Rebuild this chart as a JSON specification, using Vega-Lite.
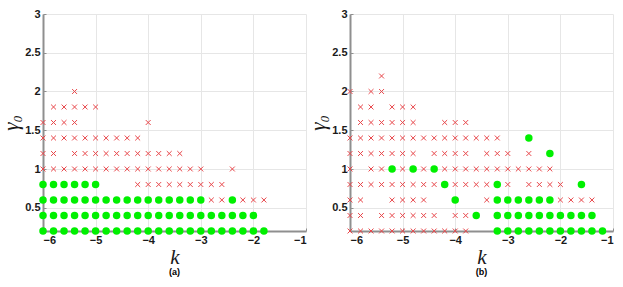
{
  "$schema": "https://vega.github.io/schema/vega-lite/v6.json",
  "background": "white",
  "padding": {"left": 0, "top": 8, "right": 0, "bottom": 0},
  "datasets": {
    "pts": [
      {"p":"a","g":2.0,"t":"x","k":-5.4},
      {"p":"a","g":1.8,"t":"x","k":-5.8},{"p":"a","g":1.8,"t":"x","k":-5.6},{"p":"a","g":1.8,"t":"x","k":-5.4},{"p":"a","g":1.8,"t":"x","k":-5.2},{"p":"a","g":1.8,"t":"x","k":-5.0},
      {"p":"a","g":1.6,"t":"x","k":-6.0},{"p":"a","g":1.6,"t":"x","k":-5.8},{"p":"a","g":1.6,"t":"x","k":-5.6},{"p":"a","g":1.6,"t":"x","k":-5.4},{"p":"a","g":1.6,"t":"x","k":-4.0},
      {"p":"a","g":1.4,"t":"x","k":-6.0},{"p":"a","g":1.4,"t":"x","k":-5.8},{"p":"a","g":1.4,"t":"x","k":-5.6},{"p":"a","g":1.4,"t":"x","k":-5.4},{"p":"a","g":1.4,"t":"x","k":-5.2},{"p":"a","g":1.4,"t":"x","k":-5.0},{"p":"a","g":1.4,"t":"x","k":-4.8},{"p":"a","g":1.4,"t":"x","k":-4.6},{"p":"a","g":1.4,"t":"x","k":-4.4},{"p":"a","g":1.4,"t":"x","k":-4.2},
      {"p":"a","g":1.2,"t":"x","k":-6.0},{"p":"a","g":1.2,"t":"x","k":-5.8},{"p":"a","g":1.2,"t":"x","k":-5.4},{"p":"a","g":1.2,"t":"x","k":-5.2},{"p":"a","g":1.2,"t":"x","k":-5.0},{"p":"a","g":1.2,"t":"x","k":-4.8},{"p":"a","g":1.2,"t":"x","k":-4.6},{"p":"a","g":1.2,"t":"x","k":-4.4},{"p":"a","g":1.2,"t":"x","k":-4.2},{"p":"a","g":1.2,"t":"x","k":-4.0},{"p":"a","g":1.2,"t":"x","k":-3.8},{"p":"a","g":1.2,"t":"x","k":-3.6},{"p":"a","g":1.2,"t":"x","k":-3.4},
      {"p":"a","g":1.0,"t":"x","k":-6.0},{"p":"a","g":1.0,"t":"x","k":-5.8},{"p":"a","g":1.0,"t":"x","k":-5.6},{"p":"a","g":1.0,"t":"x","k":-5.4},{"p":"a","g":1.0,"t":"x","k":-5.2},{"p":"a","g":1.0,"t":"x","k":-5.0},{"p":"a","g":1.0,"t":"x","k":-4.8},{"p":"a","g":1.0,"t":"x","k":-4.6},{"p":"a","g":1.0,"t":"x","k":-4.4},{"p":"a","g":1.0,"t":"x","k":-4.2},{"p":"a","g":1.0,"t":"x","k":-4.0},{"p":"a","g":1.0,"t":"x","k":-3.8},{"p":"a","g":1.0,"t":"x","k":-3.6},{"p":"a","g":1.0,"t":"x","k":-3.4},{"p":"a","g":1.0,"t":"x","k":-3.2},{"p":"a","g":1.0,"t":"x","k":-3.0},{"p":"a","g":1.0,"t":"x","k":-2.4},
      {"p":"a","g":0.8,"t":"o","k":-6.0},{"p":"a","g":0.8,"t":"o","k":-5.8},{"p":"a","g":0.8,"t":"o","k":-5.6},{"p":"a","g":0.8,"t":"o","k":-5.4},{"p":"a","g":0.8,"t":"o","k":-5.2},{"p":"a","g":0.8,"t":"o","k":-5.0},
      {"p":"a","g":0.8,"t":"x","k":-4.2},{"p":"a","g":0.8,"t":"x","k":-4.0},{"p":"a","g":0.8,"t":"x","k":-3.8},{"p":"a","g":0.8,"t":"x","k":-3.6},{"p":"a","g":0.8,"t":"x","k":-3.4},{"p":"a","g":0.8,"t":"x","k":-3.2},{"p":"a","g":0.8,"t":"x","k":-3.0},{"p":"a","g":0.8,"t":"x","k":-2.8},{"p":"a","g":0.8,"t":"x","k":-2.6},
      {"p":"a","g":0.6,"t":"o","k":-6.0},{"p":"a","g":0.6,"t":"o","k":-5.8},{"p":"a","g":0.6,"t":"o","k":-5.6},{"p":"a","g":0.6,"t":"o","k":-5.4},{"p":"a","g":0.6,"t":"o","k":-5.2},{"p":"a","g":0.6,"t":"o","k":-5.0},{"p":"a","g":0.6,"t":"o","k":-4.8},{"p":"a","g":0.6,"t":"o","k":-4.6},{"p":"a","g":0.6,"t":"o","k":-4.4},{"p":"a","g":0.6,"t":"o","k":-4.2},{"p":"a","g":0.6,"t":"o","k":-4.0},{"p":"a","g":0.6,"t":"o","k":-3.8},{"p":"a","g":0.6,"t":"o","k":-3.6},{"p":"a","g":0.6,"t":"o","k":-3.4},{"p":"a","g":0.6,"t":"o","k":-3.2},{"p":"a","g":0.6,"t":"o","k":-3.0},{"p":"a","g":0.6,"t":"o","k":-2.4},
      {"p":"a","g":0.6,"t":"x","k":-2.8},{"p":"a","g":0.6,"t":"x","k":-2.6},{"p":"a","g":0.6,"t":"x","k":-2.2},{"p":"a","g":0.6,"t":"x","k":-2.0},{"p":"a","g":0.6,"t":"x","k":-1.8},
      {"p":"a","g":0.4,"t":"o","k":-6.0},{"p":"a","g":0.4,"t":"o","k":-5.8},{"p":"a","g":0.4,"t":"o","k":-5.6},{"p":"a","g":0.4,"t":"o","k":-5.4},{"p":"a","g":0.4,"t":"o","k":-5.2},{"p":"a","g":0.4,"t":"o","k":-5.0},{"p":"a","g":0.4,"t":"o","k":-4.8},{"p":"a","g":0.4,"t":"o","k":-4.6},{"p":"a","g":0.4,"t":"o","k":-4.4},{"p":"a","g":0.4,"t":"o","k":-4.2},{"p":"a","g":0.4,"t":"o","k":-4.0},{"p":"a","g":0.4,"t":"o","k":-3.8},{"p":"a","g":0.4,"t":"o","k":-3.6},{"p":"a","g":0.4,"t":"o","k":-3.4},{"p":"a","g":0.4,"t":"o","k":-3.2},{"p":"a","g":0.4,"t":"o","k":-3.0},{"p":"a","g":0.4,"t":"o","k":-2.8},{"p":"a","g":0.4,"t":"o","k":-2.6},{"p":"a","g":0.4,"t":"o","k":-2.4},{"p":"a","g":0.4,"t":"o","k":-2.2},{"p":"a","g":0.4,"t":"o","k":-2.0},
      {"p":"a","g":0.2,"t":"o","k":-6.0},{"p":"a","g":0.2,"t":"o","k":-5.8},{"p":"a","g":0.2,"t":"o","k":-5.6},{"p":"a","g":0.2,"t":"o","k":-5.4},{"p":"a","g":0.2,"t":"o","k":-5.2},{"p":"a","g":0.2,"t":"o","k":-5.0},{"p":"a","g":0.2,"t":"o","k":-4.8},{"p":"a","g":0.2,"t":"o","k":-4.6},{"p":"a","g":0.2,"t":"o","k":-4.4},{"p":"a","g":0.2,"t":"o","k":-4.2},{"p":"a","g":0.2,"t":"o","k":-4.0},{"p":"a","g":0.2,"t":"o","k":-3.8},{"p":"a","g":0.2,"t":"o","k":-3.6},{"p":"a","g":0.2,"t":"o","k":-3.4},{"p":"a","g":0.2,"t":"o","k":-3.2},{"p":"a","g":0.2,"t":"o","k":-3.0},{"p":"a","g":0.2,"t":"o","k":-2.8},{"p":"a","g":0.2,"t":"o","k":-2.6},{"p":"a","g":0.2,"t":"o","k":-2.4},{"p":"a","g":0.2,"t":"o","k":-2.2},{"p":"a","g":0.2,"t":"o","k":-2.0},{"p":"a","g":0.2,"t":"o","k":-1.8},

      {"p":"b","g":2.2,"t":"x","k":-5.4},
      {"p":"b","g":2.0,"t":"x","k":-6.0},{"p":"b","g":2.0,"t":"x","k":-5.6},{"p":"b","g":2.0,"t":"x","k":-5.4},
      {"p":"b","g":1.8,"t":"x","k":-5.8},{"p":"b","g":1.8,"t":"x","k":-5.6},{"p":"b","g":1.8,"t":"x","k":-5.2},{"p":"b","g":1.8,"t":"x","k":-5.0},{"p":"b","g":1.8,"t":"x","k":-4.8},
      {"p":"b","g":1.6,"t":"x","k":-5.8},{"p":"b","g":1.6,"t":"x","k":-5.6},{"p":"b","g":1.6,"t":"x","k":-5.4},{"p":"b","g":1.6,"t":"x","k":-5.2},{"p":"b","g":1.6,"t":"x","k":-5.0},{"p":"b","g":1.6,"t":"x","k":-4.8},{"p":"b","g":1.6,"t":"x","k":-4.2},{"p":"b","g":1.6,"t":"x","k":-4.0},{"p":"b","g":1.6,"t":"x","k":-3.8},
      {"p":"b","g":1.4,"t":"x","k":-6.0},{"p":"b","g":1.4,"t":"x","k":-5.8},{"p":"b","g":1.4,"t":"x","k":-5.6},{"p":"b","g":1.4,"t":"x","k":-5.4},{"p":"b","g":1.4,"t":"x","k":-5.2},{"p":"b","g":1.4,"t":"x","k":-5.0},{"p":"b","g":1.4,"t":"x","k":-4.8},{"p":"b","g":1.4,"t":"x","k":-4.6},{"p":"b","g":1.4,"t":"x","k":-4.4},{"p":"b","g":1.4,"t":"x","k":-4.2},{"p":"b","g":1.4,"t":"x","k":-4.0},{"p":"b","g":1.4,"t":"x","k":-3.8},{"p":"b","g":1.4,"t":"x","k":-3.6},{"p":"b","g":1.4,"t":"x","k":-3.4},{"p":"b","g":1.4,"t":"x","k":-3.2},{"p":"b","g":1.4,"t":"o","k":-2.6},
      {"p":"b","g":1.2,"t":"x","k":-6.0},{"p":"b","g":1.2,"t":"x","k":-5.8},{"p":"b","g":1.2,"t":"x","k":-5.6},{"p":"b","g":1.2,"t":"x","k":-5.4},{"p":"b","g":1.2,"t":"x","k":-5.2},{"p":"b","g":1.2,"t":"x","k":-5.0},{"p":"b","g":1.2,"t":"x","k":-4.8},{"p":"b","g":1.2,"t":"x","k":-4.4},{"p":"b","g":1.2,"t":"x","k":-4.2},{"p":"b","g":1.2,"t":"x","k":-4.0},{"p":"b","g":1.2,"t":"x","k":-3.8},{"p":"b","g":1.2,"t":"x","k":-3.4},{"p":"b","g":1.2,"t":"x","k":-3.2},{"p":"b","g":1.2,"t":"x","k":-3.0},{"p":"b","g":1.2,"t":"x","k":-2.6},{"p":"b","g":1.2,"t":"o","k":-2.2},
      {"p":"b","g":1.0,"t":"x","k":-6.0},{"p":"b","g":1.0,"t":"x","k":-5.6},{"p":"b","g":1.0,"t":"x","k":-5.4},{"p":"b","g":1.0,"t":"o","k":-5.2},{"p":"b","g":1.0,"t":"x","k":-5.0},{"p":"b","g":1.0,"t":"o","k":-4.8},{"p":"b","g":1.0,"t":"x","k":-4.6},{"p":"b","g":1.0,"t":"o","k":-4.4},{"p":"b","g":1.0,"t":"x","k":-4.2},{"p":"b","g":1.0,"t":"x","k":-4.0},{"p":"b","g":1.0,"t":"x","k":-3.8},{"p":"b","g":1.0,"t":"x","k":-3.6},{"p":"b","g":1.0,"t":"x","k":-3.4},{"p":"b","g":1.0,"t":"x","k":-3.2},{"p":"b","g":1.0,"t":"x","k":-3.0},{"p":"b","g":1.0,"t":"x","k":-2.8},{"p":"b","g":1.0,"t":"x","k":-2.6},{"p":"b","g":1.0,"t":"x","k":-2.4},{"p":"b","g":1.0,"t":"x","k":-2.2},
      {"p":"b","g":0.8,"t":"x","k":-6.0},{"p":"b","g":0.8,"t":"x","k":-5.8},{"p":"b","g":0.8,"t":"x","k":-5.6},{"p":"b","g":0.8,"t":"x","k":-5.4},{"p":"b","g":0.8,"t":"x","k":-5.2},{"p":"b","g":0.8,"t":"x","k":-5.0},{"p":"b","g":0.8,"t":"x","k":-4.8},{"p":"b","g":0.8,"t":"x","k":-4.6},{"p":"b","g":0.8,"t":"x","k":-4.4},{"p":"b","g":0.8,"t":"o","k":-4.2},{"p":"b","g":0.8,"t":"x","k":-4.0},{"p":"b","g":0.8,"t":"x","k":-3.8},{"p":"b","g":0.8,"t":"x","k":-3.6},{"p":"b","g":0.8,"t":"x","k":-3.4},{"p":"b","g":0.8,"t":"o","k":-3.2},{"p":"b","g":0.8,"t":"x","k":-3.0},{"p":"b","g":0.8,"t":"x","k":-2.6},{"p":"b","g":0.8,"t":"x","k":-2.4},{"p":"b","g":0.8,"t":"x","k":-2.2},{"p":"b","g":0.8,"t":"x","k":-2.0},{"p":"b","g":0.8,"t":"o","k":-1.6},
      {"p":"b","g":0.6,"t":"x","k":-6.0},{"p":"b","g":0.6,"t":"x","k":-5.8},{"p":"b","g":0.6,"t":"x","k":-5.2},{"p":"b","g":0.6,"t":"x","k":-5.0},{"p":"b","g":0.6,"t":"x","k":-4.8},{"p":"b","g":0.6,"t":"x","k":-4.6},{"p":"b","g":0.6,"t":"o","k":-4.0},{"p":"b","g":0.6,"t":"x","k":-3.4},{"p":"b","g":0.6,"t":"o","k":-3.2},{"p":"b","g":0.6,"t":"o","k":-3.0},{"p":"b","g":0.6,"t":"o","k":-2.8},{"p":"b","g":0.6,"t":"o","k":-2.6},{"p":"b","g":0.6,"t":"o","k":-2.4},{"p":"b","g":0.6,"t":"o","k":-2.2},{"p":"b","g":0.6,"t":"x","k":-2.0},{"p":"b","g":0.6,"t":"x","k":-1.8},{"p":"b","g":0.6,"t":"x","k":-1.6},{"p":"b","g":0.6,"t":"x","k":-1.4},
      {"p":"b","g":0.4,"t":"x","k":-6.0},{"p":"b","g":0.4,"t":"x","k":-5.8},{"p":"b","g":0.4,"t":"x","k":-5.4},{"p":"b","g":0.4,"t":"x","k":-5.2},{"p":"b","g":0.4,"t":"x","k":-5.0},{"p":"b","g":0.4,"t":"x","k":-4.8},{"p":"b","g":0.4,"t":"x","k":-4.6},{"p":"b","g":0.4,"t":"x","k":-4.4},{"p":"b","g":0.4,"t":"x","k":-4.0},{"p":"b","g":0.4,"t":"x","k":-3.8},{"p":"b","g":0.4,"t":"o","k":-3.6},{"p":"b","g":0.4,"t":"o","k":-3.2},{"p":"b","g":0.4,"t":"o","k":-3.0},{"p":"b","g":0.4,"t":"o","k":-2.8},{"p":"b","g":0.4,"t":"o","k":-2.6},{"p":"b","g":0.4,"t":"o","k":-2.4},{"p":"b","g":0.4,"t":"o","k":-2.2},{"p":"b","g":0.4,"t":"o","k":-2.0},{"p":"b","g":0.4,"t":"o","k":-1.8},{"p":"b","g":0.4,"t":"o","k":-1.6},{"p":"b","g":0.4,"t":"o","k":-1.4},
      {"p":"b","g":0.2,"t":"x","k":-6.0},{"p":"b","g":0.2,"t":"x","k":-5.8},{"p":"b","g":0.2,"t":"x","k":-5.6},{"p":"b","g":0.2,"t":"x","k":-5.4},{"p":"b","g":0.2,"t":"x","k":-5.2},{"p":"b","g":0.2,"t":"x","k":-5.0},{"p":"b","g":0.2,"t":"x","k":-4.8},{"p":"b","g":0.2,"t":"x","k":-4.6},{"p":"b","g":0.2,"t":"x","k":-4.4},{"p":"b","g":0.2,"t":"x","k":-4.2},{"p":"b","g":0.2,"t":"x","k":-4.0},{"p":"b","g":0.2,"t":"x","k":-3.8},
      {"p":"b","g":0.2,"t":"o","k":-3.2},{"p":"b","g":0.2,"t":"o","k":-3.0},{"p":"b","g":0.2,"t":"o","k":-2.8},{"p":"b","g":0.2,"t":"o","k":-2.6},{"p":"b","g":0.2,"t":"o","k":-2.4},{"p":"b","g":0.2,"t":"o","k":-2.2},{"p":"b","g":0.2,"t":"o","k":-2.0},{"p":"b","g":0.2,"t":"o","k":-1.8},{"p":"b","g":0.2,"t":"o","k":-1.6},{"p":"b","g":0.2,"t":"o","k":-1.4},{"p":"b","g":0.2,"t":"o","k":-1.2}
    ]
  },
  "data": {"name": "pts"},
  "spacing": 44,
  "bounds": "flush",
  "hconcat": [
    {
      "width": 263, "height": 217,
      "title": {"text": "(a)", "orient": "bottom", "anchor": "middle", "font": "Liberation Sans", "fontSize": 9, "fontWeight": "bold", "offset": 1},
      "transform": [{"filter": "datum.p === 'a'"}],
      "encoding": {
        "x": {"field": "k", "type": "quantitative", "scale": {"domain": [-6, -1], "nice": false, "zero": false}, "axis": {"values": [-6, -5, -4, -3, -2, -1], "format": "~g", "title": "k"}},
        "y": {"field": "g", "type": "quantitative", "scale": {"domain": [0.2, 3], "nice": false, "zero": false}, "axis": {"values": [0.5, 1, 1.5, 2, 2.5, 3], "format": "~g", "title": "γ₀"}}
      },
      "layer": [
        {"transform": [{"filter": "datum.t === 'o'"}], "mark": {"type": "point", "shape": "circle", "filled": true, "color": "#00f000", "opacity": 1, "size": 56}},
        {"transform": [{"filter": "datum.t === 'x'"}], "mark": {"type": "point", "shape": "M-1,-1L1,1M-1,1L1,-1", "filled": false, "stroke": "#e8464a", "strokeWidth": 1, "opacity": 1, "size": 24}}
      ]
    },
    {
      "width": 263, "height": 217,
      "title": {"text": "(b)", "orient": "bottom", "anchor": "middle", "font": "Liberation Sans", "fontSize": 9, "fontWeight": "bold", "offset": 1},
      "transform": [{"filter": "datum.p === 'b'"}],
      "encoding": {
        "x": {"field": "k", "type": "quantitative", "scale": {"domain": [-6, -1], "nice": false, "zero": false}, "axis": {"values": [-6, -5, -4, -3, -2, -1], "format": "~g", "title": "k"}},
        "y": {"field": "g", "type": "quantitative", "scale": {"domain": [0.2, 3], "nice": false, "zero": false}, "axis": {"values": [0.5, 1, 1.5, 2, 2.5, 3], "format": "~g", "title": "γ₀"}}
      },
      "layer": [
        {"transform": [{"filter": "datum.t === 'o'"}], "mark": {"type": "point", "shape": "circle", "filled": true, "color": "#00f000", "opacity": 1, "size": 56}},
        {"transform": [{"filter": "datum.t === 'x'"}], "mark": {"type": "point", "shape": "M-1,-1L1,1M-1,1L1,-1", "filled": false, "stroke": "#e8464a", "strokeWidth": 1, "opacity": 1, "size": 24}}
      ]
    }
  ],
  "config": {
    "view": {"stroke": null},
    "axis": {
      "grid": true, "gridColor": "#e6e6e6", "gridWidth": 1,
      "domainColor": "#8f8f8f", "domainWidth": 2,
      "ticks": true, "tickSize": -3, "tickColor": "#8f8f8f",
      "labelFont": "Liberation Sans", "labelFontSize": 11, "labelFontWeight": "bold", "labelColor": "#1a1a1a",
      "titleFont": "Liberation Serif", "titleFontStyle": "italic", "titleFontWeight": "normal", "titleFontSize": 21, "titleColor": "#1a1a1a"
    },
    "axisX": {"labelPadding": 6, "titlePadding": 1},
    "axisY": {"labelPadding": 6, "titlePadding": 3}
  }
}
